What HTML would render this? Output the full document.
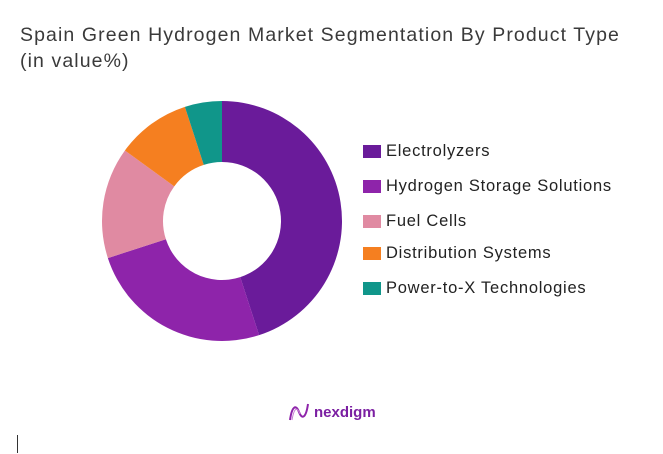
<!DOCTYPE html>
<html><head><meta charset="utf-8"><style>
body{margin:0;width:663px;height:454px;background:#fff;font-family:"Liberation Sans",sans-serif;position:relative;overflow:hidden}
.title{position:absolute;left:20px;top:22px;font-size:19.5px;line-height:26px;color:#3a3a3a;letter-spacing:1.1px;white-space:nowrap}
.leg{position:absolute;left:363px;font-size:16.5px;letter-spacing:0.75px;color:#222;display:flex;align-items:center;white-space:nowrap}
.sw{width:18px;height:13px;margin-right:5px}
</style></head><body>
<div class="title">Spain Green Hydrogen Market Segmentation By Product Type<br>(in value%)</div>
<svg id="chart" width="663" height="454" style="position:absolute;left:0;top:0"></svg>
<div id="legend"></div>
<div style="position:absolute;left:288px;top:402px;display:flex;align-items:center">
<svg width="22" height="20" viewBox="0 0 22 20"><path d="M2 18 C4 4,8 2,11 10 C14 18,18 16,20 2" stroke="#8e24aa" stroke-width="2" fill="none"/><path d="M4 18 C6 6,9 4,12 12" stroke="#c77dd6" stroke-width="1" fill="none"/></svg>
<span style="color:#7b1fa2;font-weight:bold;font-size:15px;margin-left:4px">nexdigm</span></div>
<div style="position:absolute;left:17px;top:435px;width:1px;height:18px;background:#333"></div>
<script>
const categories=["Electrolyzers","Hydrogen Storage Solutions","Fuel Cells","Distribution Systems","Power-to-X Technologies"];
const values=[45,25,15,10,5];
const colors=["#6a1b9a","#8e24aa","#e08aa2","#f57f20","#10968a"];
const cx=222,cy=221,R=120,r=59;
const svg=document.getElementById('chart');
const total=values.reduce((a,b)=>a+b,0);
let a0=0;
function pt(rad,ang){return [cx+rad*Math.sin(ang),cy-rad*Math.cos(ang)];}
values.forEach((v,i)=>{
  const a1=a0+v/total*2*Math.PI;
  const [x1,y1]=pt(R,a0),[x2,y2]=pt(R,a1),[x3,y3]=pt(r,a1),[x4,y4]=pt(r,a0);
  const lg=(a1-a0)>Math.PI?1:0;
  const p=document.createElementNS('http://www.w3.org/2000/svg','path');
  p.setAttribute('d',`M${x1},${y1}A${R},${R} 0 ${lg} 1 ${x2},${y2}L${x3},${y3}A${r},${r} 0 ${lg} 0 ${x4},${y4}Z`);
  p.setAttribute('fill',colors[i]);
  
  
  svg.appendChild(p);
  a0=a1;
});
const ys=[152,187,222,254,289];
const lg=document.getElementById('legend');
categories.forEach((c,i)=>{
  const d=document.createElement('div');
  d.className='leg';d.style.top=(ys[i]-10)+'px';
  
  
  d.innerHTML='<div class="sw" style="background:'+colors[i]+'"></div>'+c;
  lg.appendChild(d);
});
</script>
</body></html>
